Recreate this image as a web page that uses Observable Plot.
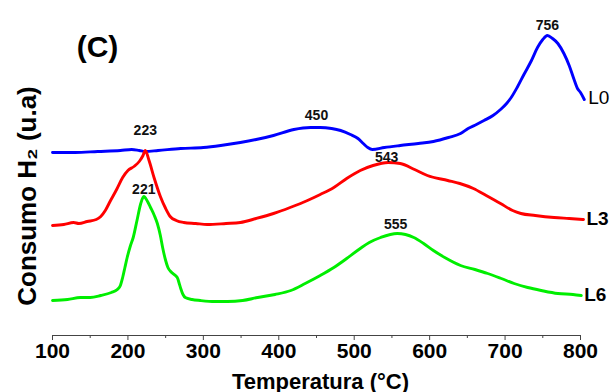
<!DOCTYPE html>
<html>
<head>
<meta charset="utf-8">
<script src="https://cdn.jsdelivr.net/npm/d3@7"></script>
<script src="https://cdn.jsdelivr.net/npm/@observablehq/plot@0.6"></script>
<style>
  body { margin: 0; background: #fff; }
  #chart svg { display: block; }
</style>
</head>
<body>
<div id="chart"></div>
<script>
// H2-TPR profiles (arbitrary units, curves offset vertically)
const tempL0 = [100,130,160,190,205,215,223,240,270,300,323,349,370,393,420,442,455,470,482,495,505,512,518,524,540,561,585,605,625,641,651,662,672,684,694,702,709,716,725,735,743,750,756,763,770,778,785,791,796,800,805];
const signalL0 = [183,183,184,185,186,185,184,185,187,188,190,193,196,200,206,208,208,207,205,201,197,192,188,186,188,190,192,194,198,202,207,211,215,220,226,232,239,248,261,275,288,296,300,297,292,282,270,257,247,243,236];

const tempL3 = [100,115,128,135,146,158,164,170,177,185,193,200,208,215,220,223,228,235,243,250,256,264,274,290,305,330,349,370,393,415,438,455,473,490,508,525,545,561,580,597,624,640,658,675,694,710,721,740,765,785,804];
const signalL3 = [110,111,113,112,114,116,119,125,135,146,158,165,169,174,180,185,175,157,139,127,119,115,113,112,111,112,113,117,122,128,135,141,148,157,165,170,173,172,166,160,155,152,147,140,132,125,122,120,118,117,116];

const tempL6 = [100,120,137,150,164,178,186,190,193,196,199,203,207,212,217,221,226,230,235,239,243,246,250,253,258,263,266,268,270,273,276,285,296,315,332,352,372,395,416,435,455,473,490,508,520,535,557,568,579,592,605,620,641,660,677,695,712,730,748,770,790,801];
const signalL6 = [35,36,38,38,40,43,46,50,58,68,78,89,98,115,132,139,134,128,120,112,100,88,75,68,63,60,57,52,47,41,38,36,35,34,34,35,38,41,45,52,60,68,77,87,93,98,102,101,98,92,85,78,70,66,62,57,52,48,45,42,41,40];

const seriesNames = ["L0", "L3", "L6"];
const seriesColors = ["#0000ff", "#ff0000", "#00ee00"];

// reduction peak maxima (°C) and the curve each belongs to
const peakSeries = ["L0", "L0", "L3", "L3", "L6", "L6"];
const peakTemps = [756, 450, 223, 543, 221, 555];

const xTicks = [100, 200, 300, 400, 500, 600, 700, 800];
const xMinorTicks = [150, 250, 350, 450, 550, 650, 750];

const temps = {L0: tempL0, L3: tempL3, L6: tempL6};
const signals = {L0: signalL0, L3: signalL3, L6: signalL6};

const rows = seriesNames.flatMap(name =>
  temps[name].map((t, i) => ({series: name, t, v: signals[name][i]}))
);

// value of a curve at a given temperature (nearest recorded point)
function valueAt(name, t) {
  const ts = temps[name];
  let best = 0;
  for (let i = 1; i < ts.length; ++i) if (Math.abs(ts[i] - t) < Math.abs(ts[best] - t)) best = i;
  return signals[name][best];
}

const peaks = peakTemps.map((t, i) => ({series: peakSeries[i], t, v: valueAt(peakSeries[i], t), label: String(t)}));
// vertical gap between each peak label and its curve
const labelGap = {756: 6, 450: 8, 223: 16, 543: 1, 221: 3, 555: 5};

const ends = seriesNames.map(name => {
  const ts = temps[name];
  return {series: name, t: ts[ts.length - 1], v: signals[name][ts.length - 1]};
});

const font = "'Liberation Sans', Arial, sans-serif";

const chart = Plot.plot({
  width: 614,
  height: 392,
  marginLeft: 52,
  marginRight: 34,
  marginTop: 0,
  marginBottom: 57,
  style: {fontFamily: font, background: "#fff", color: "#000"},
  x: {domain: [100, 800]},
  y: {domain: [0, 335], axis: null},
  color: {domain: seriesNames, range: seriesColors},
  marks: [
    Plot.ruleY([0], {stroke: "#444", strokeWidth: 1.2}),
    Plot.axisX({ticks: xTicks, tickSize: 5, tickPadding: 3, stroke: "#444", fontSize: 21, fontWeight: "bold", fill: "#000", label: null, tickFormat: d => String(d)}),
    Plot.axisX({ticks: xMinorTicks, tickSize: 3, stroke: "#444", tickFormat: () => "", label: null}),
    Plot.line(rows, {x: "t", y: "v", z: "series", stroke: "series", strokeWidth: 2.9, curve: "monotone-x"}),
    ...peaks.map(p => Plot.text([p], {x: "t", y: "v", text: "label", dy: -labelGap[p.t], lineAnchor: "bottom", fontSize: 14, fontWeight: "bold", fill: "#111"})),
    Plot.text(ends.filter(d => d.series === "L0"), {x: "t", y: "v", text: "series", textAnchor: "start", dx: 4, dy: -2, fontSize: 19, fill: "#000"}),
    Plot.text(ends.filter(d => d.series !== "L0"), {x: "t", y: "v", text: "series", textAnchor: "start", dx: 3, dy: -1, fontSize: 19, fontWeight: "bold", fill: "#000"}),
    Plot.text(["(C)"], {frameAnchor: "top-left", dx: 45, dy: 56, lineAnchor: "bottom", textAnchor: "middle", fontSize: 30, fontWeight: "bold", fill: "#000"}),
    Plot.text(["Consumo H₂ (u.a)"], {frameAnchor: "left", rotate: -90, dx: -25, dy: 28, lineAnchor: "middle", textAnchor: "middle", fontSize: 26, fontWeight: "bold", fill: "#000"}),
    Plot.text(["Temperatura (°C)"], {frameAnchor: "bottom", dx: 4, dy: 53, lineAnchor: "bottom", textAnchor: "middle", fontSize: 22, fontWeight: "bold", fill: "#000"})
  ]
});

document.getElementById("chart").appendChild(chart);
</script>
</body>
</html>
